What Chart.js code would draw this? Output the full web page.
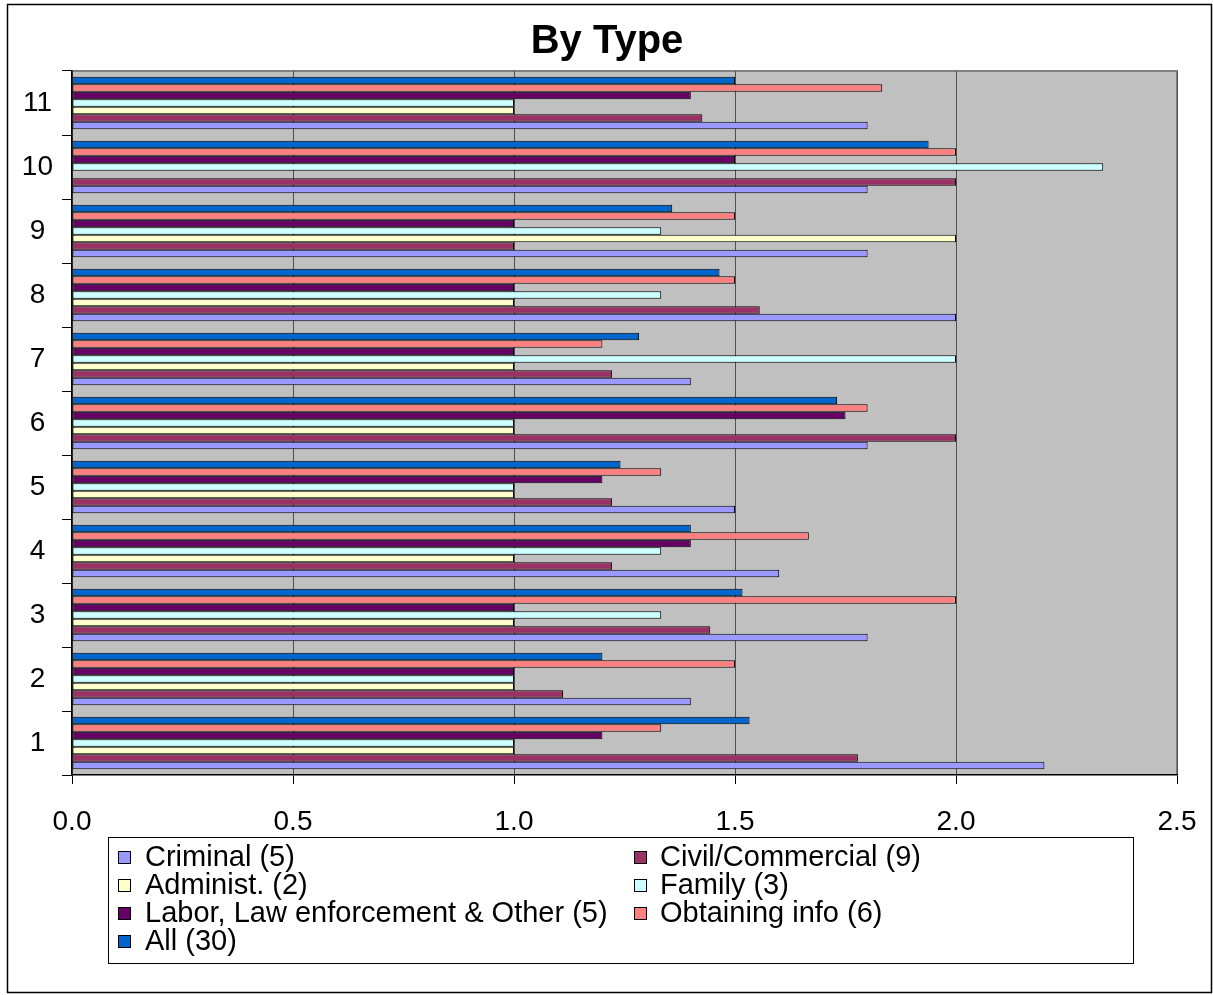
<!DOCTYPE html>
<html>
<head>
<meta charset="utf-8">
<title>By Type</title>
<script src="https://cdn.jsdelivr.net/npm/chart.js@4.4.1/dist/chart.umd.min.js"></script>
<style>
  html, body { margin: 0; padding: 0; background: #ffffff; }
  #wrap { width: 1213px; height: 995px; }
</style>
</head>
<body>
<div id="wrap"><canvas id="c" width="1213" height="995"></canvas></div>
<script>
// Categories (1 at the bottom)
const categories = ['1', '2', '3', '4', '5', '6', '7', '8', '9', '10', '11'];
const xTicks = [0, 0.5, 1.0, 1.5, 2.0, 2.5];
const chartTitle = 'By Type';

// Series values per category 1..11
const criminal  = [2.2, 1.4, 1.8, 1.6, 1.5, 1.8, 1.4, 2.0, 1.8, 1.8, 1.8];
const civil     = [1.778, 1.111, 1.444, 1.222, 1.222, 2.0, 1.222, 1.556, 1.0, 2.0, 1.426];
const administ  = [1.0, 1.0, 1.0, 1.0, 1.0, 1.0, 1.0, 1.0, 2.0, null, 1.0];
const family    = [1.0, 1.0, 1.333, 1.333, 1.0, 1.0, 2.0, 1.333, 1.333, 2.333, 1.0];
const labor     = [1.2, 1.0, 1.0, 1.4, 1.2, 1.75, 1.0, 1.0, 1.0, 1.5, 1.4];
const obtaining = [1.333, 1.5, 2.0, 1.667, 1.333, 1.8, 1.2, 1.5, 1.5, 2.0, 1.833];
const all       = [1.533, 1.2, 1.517, 1.4, 1.241, 1.731, 1.283, 1.465, 1.358, 1.938, 1.5];

// Legend order (row-major, two columns)
const seriesNames = [
  'Criminal (5)', 'Civil/Commercial (9)', 'Administ. (2)', 'Family (3)',
  'Labor, Law enforcement & Other (5)', 'Obtaining info (6)', 'All (30)'
];
const seriesColors = ['#9999FF', '#993366', '#FFFFCC', '#CCFFFF', '#660066', '#FF8080', '#0066CC'];
const seriesValues = [criminal, civil, administ, family, labor, obtaining, all];

const FONT = "'Liberation Sans', Arial, Helvetica, sans-serif";

// Within a group the first dataset sits on top, so feed them in reverse
const datasets = seriesNames.map((name, i) => ({
  label: name,
  data: seriesValues[i],
  backgroundColor: seriesColors[i],
  borderColor: '#000000',
  borderWidth: 1,
  borderSkipped: false,
  legendIndex: i
})).reverse();

const framePlugin = {
  id: 'frame',
  beforeDraw(chart) {
    const { ctx, chartArea: a } = chart;
    ctx.save();
    ctx.fillStyle = '#ffffff';
    ctx.fillRect(0, 0, chart.width, chart.height);
    ctx.fillStyle = '#C0C0C0';
    ctx.fillRect(a.left, a.top, a.right - a.left, a.bottom - a.top);
    ctx.strokeStyle = '#808080';
    ctx.lineWidth = 2;
    ctx.beginPath();
    ctx.moveTo(a.left, a.top);
    ctx.lineTo(a.right, a.top);
    ctx.lineTo(a.right, a.bottom);
    ctx.stroke();
    ctx.restore();
  },
  afterDraw(chart) {
    const { ctx } = chart;
    ctx.save();
    // outer chart border
    ctx.strokeStyle = '#000000';
    ctx.lineWidth = 1.5;
    ctx.strokeRect(7.5, 4.5, 1204, 988);

    // title
    ctx.fillStyle = '#000000';
    ctx.font = 'bold 40px ' + FONT;
    ctx.textAlign = 'center';
    ctx.textBaseline = 'alphabetic';
    ctx.fillText(chartTitle, 607, 53);

    // legend box
    const box = { x: 108.5, y: 837.5, w: 1025, h: 126 };
    ctx.fillStyle = '#ffffff';
    ctx.fillRect(box.x, box.y, box.w, box.h);
    ctx.lineWidth = 1;
    ctx.strokeStyle = '#000000';
    ctx.strokeRect(box.x, box.y, box.w, box.h);

    const colSwatch = [118, 634];
    const colText = [145, 660];
    const rowY = [857, 885, 913, 941];
    ctx.font = '29px ' + FONT;
    ctx.textBaseline = 'middle';
    ctx.textAlign = 'left';
    chart.data.datasets.slice().sort((p, q) => p.legendIndex - q.legendIndex).forEach((ds, i) => {
      const col = i % 2, row = Math.floor(i / 2);
      const sx = colSwatch[col], sy = rowY[row] - 6;
      ctx.fillStyle = ds.backgroundColor;
      ctx.fillRect(sx, sy, 12, 12);
      ctx.strokeStyle = '#000000';
      ctx.lineWidth = 1;
      ctx.strokeRect(sx + 0.5, sy + 0.5, 12, 12);
      ctx.fillStyle = '#000000';
      ctx.fillText(ds.label, colText[col], rowY[row] + 1);
    });
    ctx.restore();
  }
};

new Chart(document.getElementById('c'), {
  type: 'bar',
  data: { labels: categories, datasets },
  plugins: [framePlugin],
  options: {
    indexAxis: 'y',
    responsive: false,
    animation: false,
    devicePixelRatio: 1,
    categoryPercentage: 7 / 8.5,
    barPercentage: 1.0,
    layout: { padding: { left: 8, right: 36, top: 71, bottom: 160 } },
    plugins: {
      legend: { display: false },
      tooltip: { enabled: false },
      title: { display: false }
    },
    scales: {
      x: {
        type: 'linear',
        position: 'bottom',
        min: 0,
        max: 2.5,
        afterBuildTicks(scale) { scale.ticks = xTicks.map(v => ({ value: v })); },
        afterFit(scale) {
          scale.height = 60;
          scale.paddingLeft = 0;
          scale.paddingRight = 0;
        },
        ticks: {
          color: '#000000',
          font: { family: FONT, size: 28 },
          padding: 21,
          callback: v => Number(v).toFixed(1)
        },
        grid: {
          color: '#505050',
          lineWidth: 1,
          tickColor: '#000000',
          tickLength: 9,
          drawTicks: true
        },
        border: { color: '#000000', width: 1.5 }
      },
      y: {
        type: 'category',
        reverse: true,
        afterFit(scale) { scale.width = 64; },
        ticks: {
          color: '#000000',
          font: { family: FONT, size: 28 },
          crossAlign: 'center',
          padding: 9
        },
        grid: {
          offset: true,
          drawOnChartArea: false,
          drawTicks: true,
          tickLength: 10,
          color: '#000000',
          tickColor: '#000000'
        },
        border: { color: '#000000', width: 1.5 }
      }
    }
  }
});
</script>
</body>
</html>
